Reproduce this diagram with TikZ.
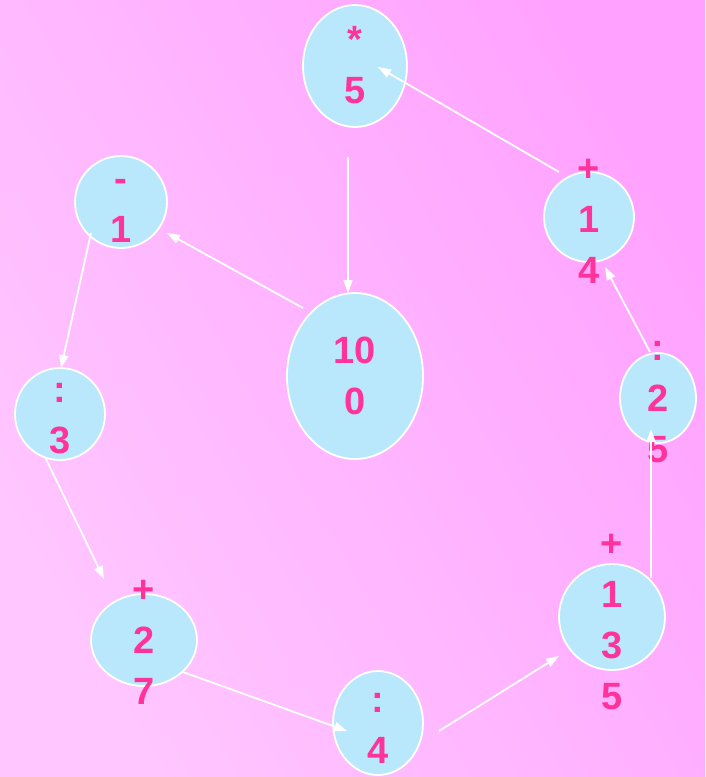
\documentclass[tikz,border=0pt]{standalone}
\usepackage{fontspec}
\setmainfont{Liberation Sans}
\usetikzlibrary{arrows.meta}
\definecolor{bgL}{RGB}{255,198,255}
\definecolor{bgR}{RGB}{255,162,255}
\definecolor{bubfill}{RGB}{185,232,252}
\definecolor{txtpink}{RGB}{255,51,153}
\tikzset{
  bub/.style={fill=bubfill, draw=white, line width=1.8pt},
  lbl/.style={text=txtpink, font=\fontsize{38}{46}\selectfont\bfseries, inner sep=0pt, anchor=base},
  conn/.style={draw=white, line width=1.8pt, -{Triangle[length=13pt,width=9pt]}},
}
\newcommand{\mybubble}[7]{%
  \coordinate (#1) at (#2,#3);
  \draw[bub] (#1) ellipse [x radius=#4pt, y radius=#5pt];
  \foreach \t [count=\i] in {#7} {
    \pgfmathsetmacro{\yy}{#6+(\i-1)*51+13.6}
    \node[lbl] (#1-\i) at (#2,\yy) {\t};
  }}
\begin{document}
\begin{tikzpicture}[x=1pt,y=-1pt]
  \useasboundingbox (0,0) rectangle (705,777);
  \shade[left color=bgL, right color=bgR, shading angle=120] (0,0) rectangle (705,777);

  \mybubble{top}{355}{66}{52}{61}{39}{*,5}
  \mybubble{pa}{589}{217}{45}{45}{168}{+,1,4}
  \mybubble{ca}{658}{398}{38}{45}{347}{:,2,5}
  \mybubble{pb}{612}{617}{53}{53}{543}{+,1,3,5}
  \mybubble{cb}{378}{723}{45}{52}{699}{:,4}
  \mybubble{pc}{144}{640}{53}{46}{589}{+,2,7}
  \mybubble{cc}{60}{414}{45}{46}{389}{:,3}
  \mybubble{mi}{121}{202}{46}{46}{178}{-,1}
  \mybubble{hu}{355}{376}{68}{83}{350}{10,0}

  % connector ends
  \coordinate (s1) at (348,157); \coordinate (e1) at (348,293);
  \coordinate (s2) at (303,308); \coordinate (e2) at (167,233);
  \coordinate (s3) at (91,233);  \coordinate (e3) at (61,368);
  \coordinate (s4) at (46,459);  \coordinate (e4) at (104,579);
  \coordinate (s5) at (183,672); \coordinate (e5) at (347,731);
  \coordinate (s6) at (439,731); \coordinate (e6) at (559,656);
  \coordinate (s7) at (651,578); \coordinate (e7) at (651,429);
  \coordinate (s8) at (650,352); \coordinate (e8) at (605,267);
  \coordinate (s9) at (559,172); \coordinate (e9) at (378,67);

  \draw[conn] (s1) -- (e1);
  \draw[conn] (s2) -- (e2);
  \draw[conn] (s3) -- (e3);
  \draw[conn] (s4) -- (e4);
  \draw[conn] (s5) -- (e5);
  \draw[conn] (s6) -- (e6);
  \draw[conn] (s7) -- (e7);
  \draw[conn] (s8) -- (e8);
  \draw[conn] (s9) -- (e9);
\end{tikzpicture}
\end{document}
